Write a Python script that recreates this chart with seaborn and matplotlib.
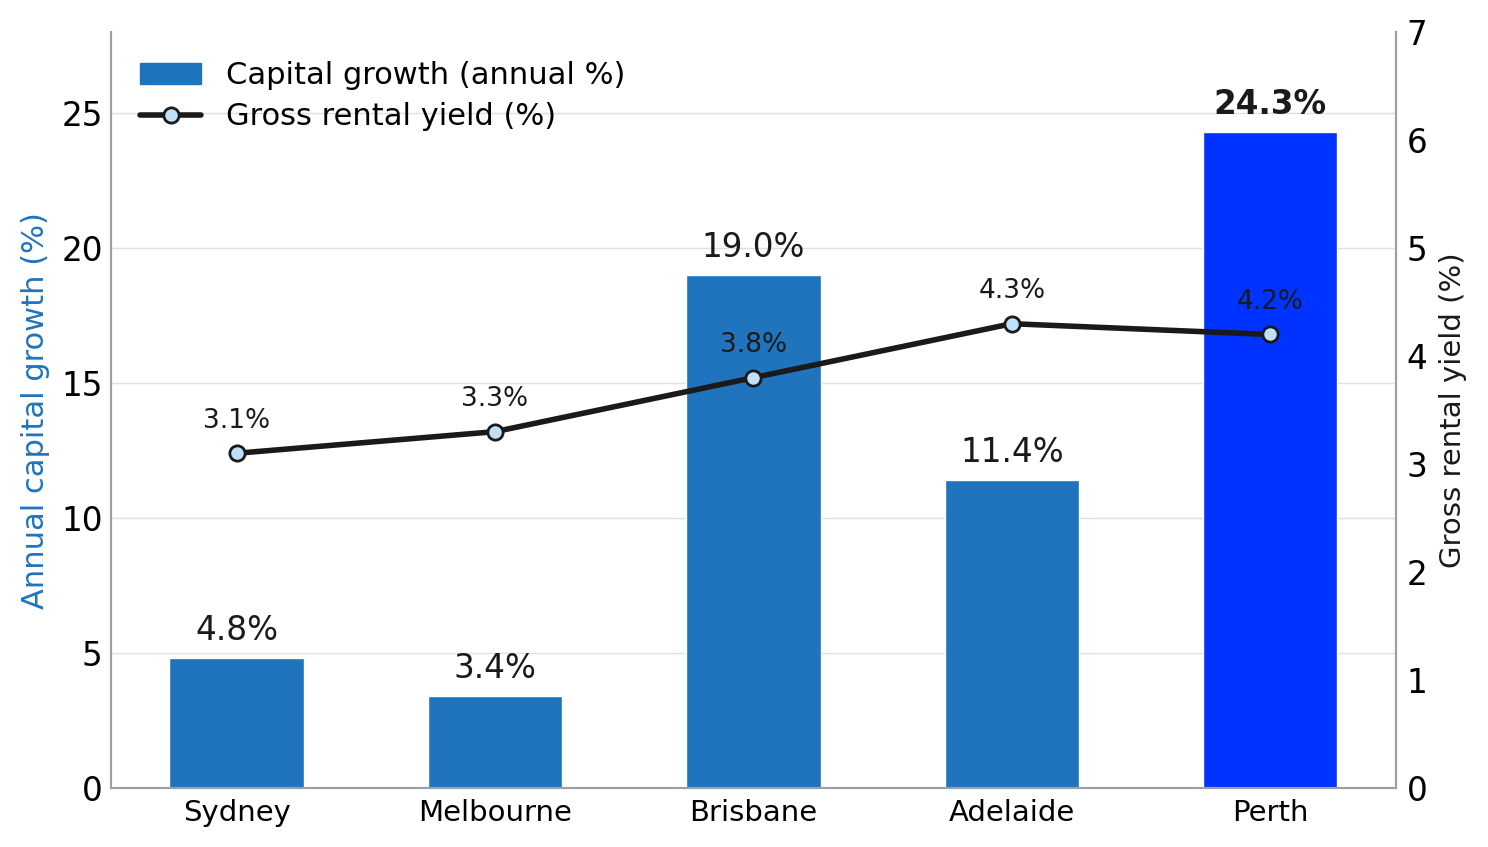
import numpy as np
import pandas as pd
import seaborn as sns
import matplotlib.pyplot as plt
from matplotlib.patches import Patch
from matplotlib.lines import Line2D

# data
cities = ['Sydney', 'Melbourne', 'Brisbane', 'Adelaide', 'Perth']
capital_growth = [4.8, 3.4, 19.0, 11.4, 24.3]
rental_yield = [3.1, 3.3, 3.8, 4.3, 4.2]

bar_blue = '#1f74bd'
top_blue = '#0033ff'
grey = '#9aa0a6'
ink = '#1a1a1a'

sns.set_style('white')
plt.rcParams['font.family'] = ['DejaVu Sans']

df = pd.DataFrame({'city': cities, 'growth': capital_growth, 'yield': rental_yield})
top = df['growth'].idxmax()
palette = {c: (top_blue if i == top else bar_blue) for i, c in enumerate(cities)}

fig, ax = plt.subplots(figsize=(14.88, 8.47), dpi=100)
fig.subplots_adjust(left=0.0746, right=0.938, top=0.962, bottom=0.0697)

sns.barplot(data=df, x='city', y='growth', hue='city', palette=palette,
            width=0.52, legend=False, saturation=1, ax=ax)
ax.set_ylim(0, 28)
ax.set_yticks([0, 5, 10, 15, 20, 25])
ax.yaxis.grid(True, color='#e0e0e0', linewidth=1)
ax.set_axisbelow(True)
ax.set_xlabel('')
ax.set_ylabel('Annual capital growth (%)', fontsize=22, color=bar_blue, labelpad=8)
ax.tick_params(axis='y', labelsize=23.5, length=0, colors='black', pad=6)
ax.tick_params(axis='x', labelsize=21, length=0, colors='black', pad=8)

# bar labels
for i, v in enumerate(capital_growth):
    ax.annotate(f'{v:.1f}%', (i, v), xytext=(0, 8), textcoords='offset points',
                ha='center', va='bottom', fontsize=23.5, color=ink,
                fontweight='bold' if i == top else 'normal')

ax2 = ax.twinx()
ax2.plot(np.arange(len(cities)), rental_yield, color=ink, linewidth=4,
         marker='o', markersize=11, markerfacecolor='#bfe0f8',
         markeredgecolor=ink, markeredgewidth=2, zorder=5)
ax2.set_ylim(0, 7)
ax2.set_ylabel('Gross rental yield (%)', fontsize=21, color=ink, labelpad=8)
ax2.tick_params(axis='y', labelsize=23.5, length=0, colors='black', pad=8)
for i, v in enumerate(rental_yield):
    ax2.annotate(f'{v:.1f}%', (i, v), xytext=(0, 14), textcoords='offset points',
                 ha='center', va='bottom', fontsize=19, color=ink)

for a in (ax, ax2):
    a.spines['top'].set_visible(False)
    for s in ('left', 'right', 'bottom'):
        a.spines[s].set_color(grey)
        a.spines[s].set_linewidth(1.5)

handles = [Patch(color=bar_blue, label='Capital growth (annual %)'),
           Line2D([0], [0], color=ink, linewidth=4, marker='o', markersize=11,
                  markerfacecolor='#bfe0f8', markeredgecolor=ink, markeredgewidth=2,
                  label='Gross rental yield (%)')]
leg = ax.legend(handles=handles, loc='upper left', frameon=False, fontsize=22,
                handlelength=2.0, borderaxespad=0.55, labelspacing=0.4)
for t in leg.get_texts():
    t.set_color('black')

fig.savefig('out.png', dpi=100)
